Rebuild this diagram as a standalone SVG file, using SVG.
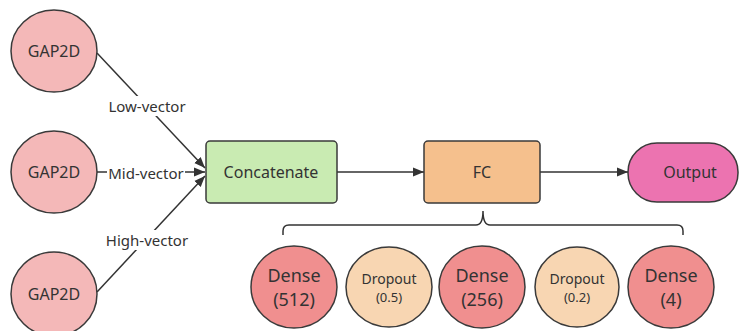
<svg xmlns="http://www.w3.org/2000/svg" width="740" height="331" viewBox="0 0 740 331">
<style>
text{font-family:"Noto Sans","Open Sans","Liberation Sans",sans-serif;fill:#333;text-anchor:middle;dominant-baseline:central}
.node{stroke:#3a3a3a;stroke-width:1.5}
.gap{fill:#f4b8b8}
.dense{fill:#f08f8f}
.drop{fill:#f8d6b2}
.edge{stroke:#333;stroke-width:1.5;fill:none}
.lbl{font-size:15px}
.nt{font-size:16px}
.big{font-size:18px}
.bg{fill:#fff}
</style>
<defs>
<marker id="arr" viewBox="0 0 10 10" refX="10" refY="5" markerWidth="11" markerHeight="11" markerUnits="userSpaceOnUse" orient="auto">
<path d="M0,1 L10,5 L0,9 Z" fill="#333"/>
</marker>
</defs>
<rect width="740" height="331" fill="#fff"/>
<g id="connectors">
<line class="edge" x1="97" y1="53" x2="205" y2="168" marker-end="url(#arr)"/>
<line class="edge" x1="97" y1="172" x2="205" y2="172" marker-end="url(#arr)"/>
<line class="edge" x1="97" y1="292" x2="205" y2="176" marker-end="url(#arr)"/>
<line class="edge" x1="337" y1="172" x2="424" y2="172" marker-end="url(#arr)"/>
<line class="edge" x1="540" y1="172" x2="628" y2="172" marker-end="url(#arr)"/>
<path class="edge" d="M283,235 V231 Q283,225 289,225 H476 Q483,225 483,211 Q483,225 490,225 H677 Q683,225 683,231 V235"/>
<rect class="bg" x="103" y="96" width="88" height="20"/>
<text class="lbl" x="147" y="106">Low-vector</text>
<rect class="bg" x="107" y="164" width="78" height="18"/>
<text class="lbl" x="146" y="173">Mid-vector</text>
<rect class="bg" x="100" y="230" width="94" height="20"/>
<text class="lbl" x="147" y="240">High-vector</text>
</g>
<g id="gap1"><ellipse class="node gap" cx="54" cy="51" rx="43" ry="41"/><text class="nt" x="54" y="51">GAP2D</text></g>
<g id="gap2"><ellipse class="node gap" cx="54" cy="172" rx="43" ry="41"/><text class="nt" x="54" y="172">GAP2D</text></g>
<g id="gap3"><ellipse class="node gap" cx="54" cy="294" rx="43" ry="42"/><text class="nt" x="54" y="294">GAP2D</text></g>
<g id="concat"><rect class="node" x="206" y="141" width="131" height="62" rx="4" fill="#c9ebb2"/><text class="nt" x="271" y="172">Concatenate</text></g>
<g id="fc"><rect class="node" x="424" y="141" width="116" height="62" rx="4" fill="#f5c08d"/><text class="nt" x="482" y="172">FC</text></g>
<g id="output"><rect class="node" x="628" y="143" width="110" height="59" rx="29" fill="#ec73b0"/><text class="nt" x="690" y="172">Output</text></g>
<g id="dense512"><ellipse class="node dense" cx="294" cy="287" rx="43" ry="41"/><text class="big" x="294" y="275">Dense</text><text class="big" x="294" y="299">(512)</text></g>
<g id="drop05"><ellipse class="node drop" cx="389" cy="287" rx="43" ry="40"/><text x="389" y="278" font-size="14">Dropout</text><text x="389" y="297" font-size="13">(0.5)</text></g>
<g id="dense256"><ellipse class="node dense" cx="482" cy="287" rx="43" ry="41"/><text class="big" x="482" y="275">Dense</text><text class="big" x="482" y="299">(256)</text></g>
<g id="drop02"><ellipse class="node drop" cx="577" cy="287" rx="42" ry="40"/><text x="577" y="278" font-size="14">Dropout</text><text x="577" y="297" font-size="13">(0.2)</text></g>
<g id="dense4"><ellipse class="node dense" cx="671" cy="287" rx="43" ry="41"/><text class="big" x="671" y="275">Dense</text><text class="big" x="671" y="299">(4)</text></g>
</svg>
